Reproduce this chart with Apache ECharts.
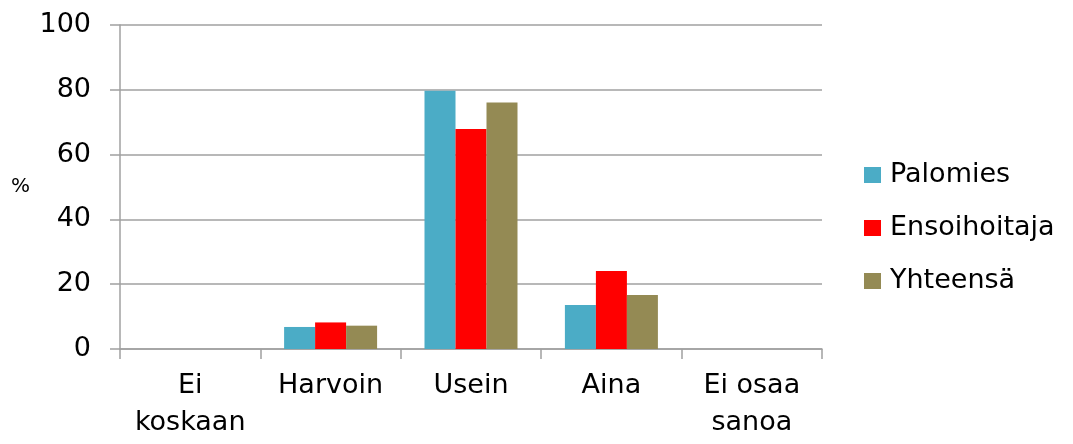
<!DOCTYPE html>
<html>
<head>
<meta charset="utf-8">
<script src="https://cdn.jsdelivr.net/npm/echarts@6/dist/echarts.min.js"></script>
<style>
  html, body { margin: 0; padding: 0; background: #ffffff; }
  #chart { width: 1073px; height: 444px; }
</style>
</head>
<body>
<div id="chart"></div>
<script>
// Response categories along the x axis
const categories = ['Ei\nkoskaan', 'Harvoin', 'Usein', 'Aina', 'Ei osaa\nsanoa'];

// Share of respondents (%) per group
const palomies     = [0, 6.8, 79.7, 13.6, 0];
const ensoihoitaja = [0, 8.2, 67.9, 24.1, 0];
const yhteensa     = [0, 7.2, 76.1, 16.7, 0];

const seriesNames = ['Palomies', 'Ensoihoitaja', 'Yhteensä'];
const yTicks = { min: 0, max: 100, interval: 20 };

const FONT = "'DejaVu Sans', sans-serif";
const AXIS_GREY = '#a0a0a0';

const chart = echarts.init(document.getElementById('chart'), null, { renderer: 'canvas' });

const barStyle = (color) => ({
  type: 'bar',
  barWidth: 31,
  barGap: '0%',
  itemStyle: { color: color },
  emphasis: { disabled: true }
});

chart.setOption({
  animation: false,
  backgroundColor: '#ffffff',
  textStyle: { fontFamily: FONT, color: '#000000' },
  grid: { left: 120, right: 251, top: 25, bottom: 95, containLabel: false },
  legend: {
    orient: 'vertical',
    left: 864,
    top: 160,
    padding: 0,
    itemWidth: 17,
    itemHeight: 16,
    itemGap: 23,
    icon: 'rect',
    textStyle: { fontFamily: FONT, fontSize: 27, color: '#000000', lineHeight: 30, padding: [0, 0, 0, 4] },
    data: seriesNames
  },
  xAxis: {
    type: 'category',
    data: categories,
    axisLine: { lineStyle: { color: AXIS_GREY, width: 1.5 } },
    axisTick: { show: true, length: 10, alignWithLabel: false, lineStyle: { color: AXIS_GREY, width: 1.5 } },
    axisLabel: {
      interval: 0,
      margin: 18,
      fontFamily: FONT,
      fontSize: 27,
      lineHeight: 37,
      color: '#000000'
    },
    splitLine: { show: false }
  },
  yAxis: {
    type: 'value',
    min: yTicks.min,
    max: yTicks.max,
    interval: yTicks.interval,
    name: '%',
    nameLocation: 'middle',
    nameRotate: 0,
    nameGap: 90,
    nameTextStyle: { fontFamily: FONT, fontSize: 20, color: '#000000' },
    axisLine: { show: true, lineStyle: { color: AXIS_GREY, width: 1.5 } },
    axisTick: { show: true, length: 10, lineStyle: { color: AXIS_GREY, width: 1.5 } },
    axisLabel: { margin: 29, fontFamily: FONT, fontSize: 27, color: '#000000' },
    splitLine: { show: true, lineStyle: { color: AXIS_GREY, width: 1.5 } }
  },
  series: [
    Object.assign(barStyle('#4BACC6'), { name: seriesNames[0], data: palomies }),
    Object.assign(barStyle('#FF0000'), { name: seriesNames[1], data: ensoihoitaja }),
    Object.assign(barStyle('#948A54'), { name: seriesNames[2], data: yhteensa })
  ]
});
</script>
</body>
</html>
